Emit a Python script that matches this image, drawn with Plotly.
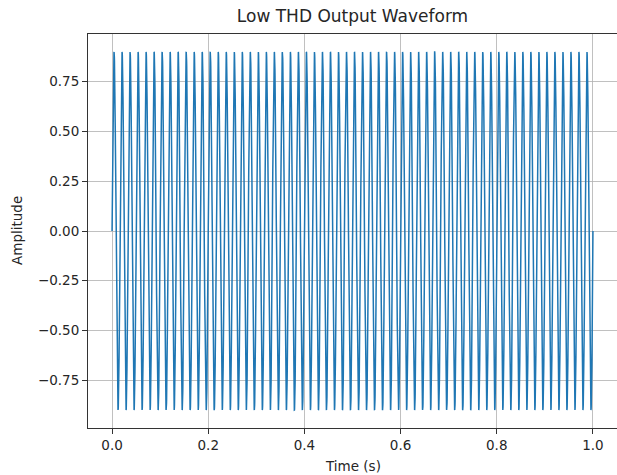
import numpy as np
import plotly.graph_objects as go

# Values: a clean sine, 60 cycles in 1 s, peak 0.9
SIGNAL_FREQ_HZ = 60
SIGNAL_AMPLITUDE = 0.9
DURATION_S = 1.0
N_SAMPLES = 5000

x_tick_vals = [0.0, 0.2, 0.4, 0.6, 0.8, 1.0]
x_tick_text = ["0.0", "0.2", "0.4", "0.6", "0.8", "1.0"]
y_tick_vals = [-0.75, -0.5, -0.25, 0.0, 0.25, 0.5, 0.75]
y_tick_text = ["\u22120.75", "\u22120.50", "\u22120.25", "0.00", "0.25", "0.50", "0.75"]

time_s = np.linspace(0.0, DURATION_S, N_SAMPLES)
amplitude = SIGNAL_AMPLITUDE * np.sin(2 * np.pi * SIGNAL_FREQ_HZ * time_s)

FONT = "DejaVu Sans"
TXT = "#262626"

fig = go.Figure()
fig.add_trace(go.Scatter(x=time_s, y=amplitude, mode="lines",
                         line=dict(color="#1f77b4", width=1.5),
                         showlegend=False, hoverinfo="skip"))

W, H = 617, 475
L, R, T, B = 88, 0, 34, 47
PW, PH = W - L - R, H - T - B
fig.update_layout(
    width=W, height=H,
    margin=dict(l=L, r=R, t=T, b=B, autoexpand=False),
    paper_bgcolor="white", plot_bgcolor="white",
    title=dict(text="Low THD Output Waveform", x=(L + (W - R)) / 2 / W, xanchor="center",
               xref="container",
               y=1 - 16 / H, yanchor="middle", yref="container",
               font=dict(family=FONT, size=17, color=TXT)),
    font=dict(family=FONT, size=13.5, color=TXT),
)
fig.update_xaxes(
    range=[-0.05, 1.05], tickvals=x_tick_vals, ticktext=x_tick_text,
    ticks="outside", ticklen=5, tickwidth=1, tickcolor="#333333",
    showline=True, linecolor="#333333", linewidth=1, mirror=True,
    showgrid=True, gridcolor="#b0b0b0", gridwidth=0.8, zeroline=False,
    tickfont=dict(family=FONT, size=13.5, color=TXT), automargin=False,
)
fig.update_yaxes(
    range=[-0.99, 0.99], tickvals=y_tick_vals, ticktext=y_tick_text,
    ticks="outside", ticklen=5, tickwidth=1, tickcolor="#333333",
    showline=True, linecolor="#333333", linewidth=1, mirror=False,
    showgrid=True, gridcolor="#b0b0b0", gridwidth=0.8, zeroline=False,
    tickfont=dict(family=FONT, size=13.5, color=TXT), automargin=False,
)
fig.add_annotation(text="Amplitude", textangle=-90, showarrow=False,
                   xref="paper", yref="paper",
                   x=(17 - L) / PW, y=0.5, xanchor="center", yanchor="middle",
                   font=dict(family=FONT, size=13.5, color=TXT))
fig.add_annotation(text="Time (s)", showarrow=False,
                   xref="paper", yref="paper",
                   x=0.5, y=-(466 - (T + PH)) / PH, xanchor="center", yanchor="middle",
                   font=dict(family=FONT, size=13.5, color=TXT))

fig.write_html("out.html",
               config={"displayModeBar": False, "staticPlot": True},
               post_script="document.body.style.margin='0';document.body.style.overflow='hidden';")
